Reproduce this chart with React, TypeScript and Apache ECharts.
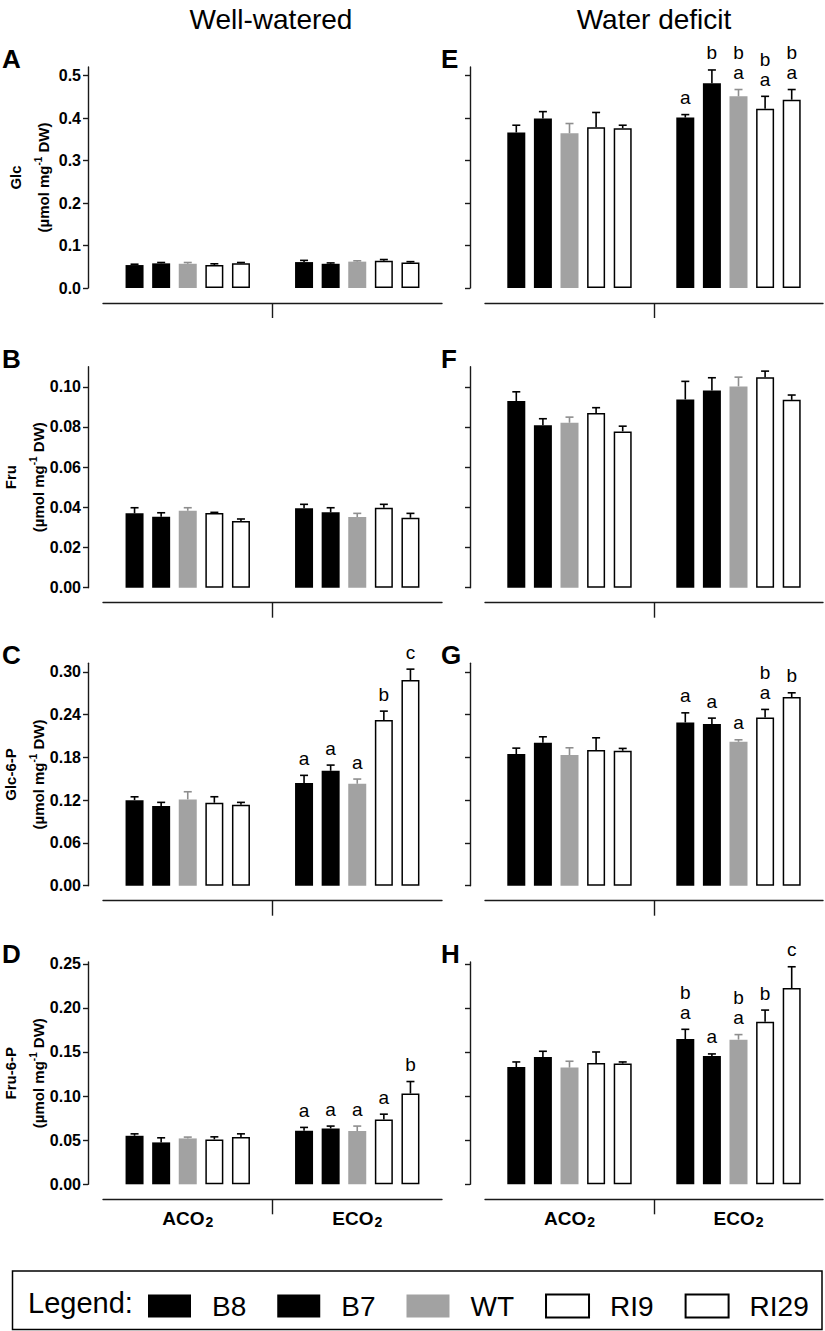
import React, { useEffect, useRef } from 'react';
import * as echarts from 'echarts';

// ---------- data ----------
const GROUPS = ['ACO2', 'ECO2'];
const LINES = ['B8', 'B7', 'WT', 'RI9', 'RI29'];

// means: first 5 = ACO2 (B8,B7,WT,RI9,RI29), last 5 = ECO2
const A_MEAN = [0.054, 0.058, 0.057, 0.054, 0.058, 0.061, 0.057, 0.062, 0.064, 0.060];
const A_ERR = [0.002, 0.002, 0.003, 0.003, 0.002, 0.004, 0.002, 0.002, 0.003, 0.002];
const A_LET = ['', '', '', '', ''];

const B_MEAN = [0.037, 0.0353, 0.0383, 0.0372, 0.0332, 0.0395, 0.0375, 0.0352, 0.0398, 0.0348];
const B_ERR = [0.0028, 0.002, 0.0015, 0.0003, 0.001, 0.002, 0.0023, 0.0018, 0.0017, 0.0022];
const B_LET = ['', '', '', '', ''];

const C_MEAN = [0.120, 0.1117, 0.1211, 0.1164, 0.1136, 0.144, 0.1612, 0.143, 0.2323, 0.2884];
const C_ERR = [0.0047, 0.0052, 0.0107, 0.0084, 0.0033, 0.0108, 0.008, 0.0066, 0.0126, 0.0154];
const C_LET = ['a', 'a', 'a', 'b', 'c'];

const D_MEAN = [0.055, 0.0475, 0.052, 0.0509, 0.0535, 0.0606, 0.0633, 0.0603, 0.0735, 0.1029];
const D_ERR = [0.0022, 0.0052, 0.0015, 0.0029, 0.0037, 0.0039, 0.0027, 0.0057, 0.006, 0.0136];
const D_LET = ['a', 'a', 'a', 'a', 'b'];

const E_MEAN = [0.366, 0.399, 0.364, 0.378, 0.376, 0.401, 0.482, 0.451, 0.422, 0.443];
const E_ERR = [0.017, 0.016, 0.023, 0.035, 0.007, 0.007, 0.031, 0.016, 0.029, 0.024];
const E_LET = ['a', 'b', 'b\na', 'b\na', 'b\na'];

const F_MEAN = [0.0929, 0.0808, 0.0821, 0.0869, 0.0778, 0.0937, 0.0982, 0.1002, 0.1047, 0.0935];
const F_ERR = [0.0046, 0.0033, 0.0028, 0.0027, 0.0026, 0.009, 0.0063, 0.0046, 0.0031, 0.0024];
const F_LET = ['', '', '', '', ''];

const G_MEAN = [0.1846, 0.2005, 0.1832, 0.1902, 0.1893, 0.229, 0.2267, 0.2019, 0.2361, 0.2646];
const G_ERR = [0.0084, 0.0084, 0.0103, 0.0173, 0.0033, 0.0135, 0.0084, 0.0028, 0.0112, 0.006];
const G_LET = ['a', 'a', 'a', 'b\na', 'b'];

const H_MEAN = [0.133, 0.1443, 0.1323, 0.1376, 0.1369, 0.1647, 0.1455, 0.164, 0.1844, 0.2224];
const H_ERR = [0.0057, 0.0065, 0.0072, 0.0124, 0.0018, 0.011, 0.0023, 0.0057, 0.0131, 0.0242];
const H_LET = ['b\na', 'a', 'b\na', 'b', 'c'];

const TICKS_GLC = [0, 0.1, 0.2, 0.3, 0.4, 0.5];
const TICKS_FRU = [0, 0.02, 0.04, 0.06, 0.08, 0.1];
const TICKS_G6P = [0, 0.06, 0.12, 0.18, 0.24, 0.3];
const TICKS_F6P = [0, 0.05, 0.1, 0.15, 0.2, 0.25];

const ROW_NAMES = ['Glc', 'Fru', 'Glc-6-P', 'Fru-6-P'];
const COL_TITLES = ['Well-watered', 'Water deficit'];
const PANEL_LETTERS = ['A', 'B', 'C', 'D', 'E', 'F', 'G', 'H'];

// ---------- styles / layout ----------
const FONT = '"Liberation Sans", Arial, Helvetica, sans-serif';
const BAR_FILL = ['#000000', '#000000', '#a2a2a2', '#ffffff', '#ffffff'];
const ERR_COLOR = ['#000000', '#000000', '#8e8e8e', '#000000', '#000000'];
const BAR_W = 18;
const BAR_GAP_PX = 8.6;
const STEP = BAR_W + BAR_GAP_PX;

const ROW_TOP = [67, 366.7, 663.3, 962];
const ROW_H = [221, 221, 222.4, 222.3];
const COL_LEFT = [103, 485];
const COL_W = [339, 338];

export default function App() {
  const ref = useRef<HTMLDivElement>(null);

  useEffect(() => {
    document.body.style.margin = '0';
    const chart = echarts.init(ref.current!, null, { renderer: 'svg' });

    const panels = [
      { mean: A_MEAN, err: A_ERR, let: A_LET, ticks: TICKS_GLC, max: 0.52, dec: 1 },
      { mean: B_MEAN, err: B_ERR, let: B_LET, ticks: TICKS_FRU, max: 0.11, dec: 2 },
      { mean: C_MEAN, err: C_ERR, let: C_LET, ticks: TICKS_G6P, max: 0.312, dec: 2 },
      { mean: D_MEAN, err: D_ERR, let: D_LET, ticks: TICKS_F6P, max: 0.252, dec: 2 },
      { mean: E_MEAN, err: E_ERR, let: E_LET, ticks: TICKS_GLC, max: 0.52, dec: 1 },
      { mean: F_MEAN, err: F_ERR, let: F_LET, ticks: TICKS_FRU, max: 0.11, dec: 2 },
      { mean: G_MEAN, err: G_ERR, let: G_LET, ticks: TICKS_G6P, max: 0.312, dec: 2 },
      { mean: H_MEAN, err: H_ERR, let: H_LET, ticks: TICKS_F6P, max: 0.252, dec: 2 },
    ];

    const grid: any[] = [];
    const xAxis: any[] = [];
    const yAxis: any[] = [];
    const series: any[] = [];
    const graphic: any[] = [];

    const axisLineStyle = { color: '#1a1a1a', width: 1.4 };

    panels.forEach((p, pi) => {
      const col = pi < 4 ? 0 : 1;
      const row = pi % 4;
      const isBottom = row === 3;
      grid.push({ left: COL_LEFT[col], top: ROW_TOP[row], width: COL_W[col], height: ROW_H[row] });

      xAxis.push({
        type: 'category',
        gridIndex: pi,
        position: 'bottom',
        data: GROUPS,
        offset: 15,
        axisLine: { onZero: false, lineStyle: axisLineStyle },
        axisTick: { alignWithLabel: true, length: 4, lineStyle: axisLineStyle },
        axisLabel: {
          show: isBottom,
          margin: 8,
          formatter: (v: string) => `{m|${v.slice(0, 3)}}{s|${v.slice(3)}}`,
          rich: {
            m: { fontSize: 19, fontWeight: 'bold', color: '#000', fontFamily: FONT, lineHeight: 22 },
            s: { fontSize: 14, fontWeight: 'bold', color: '#000', fontFamily: FONT, lineHeight: 12, verticalAlign: 'bottom', padding: [0, 0, 0, 1] },
          },
        },
      });
      xAxis.push({
        type: 'value',
        gridIndex: pi,
        position: 'bottom',
        min: 0,
        max: 2,
        interval: 1,
        offset: 15,
        axisLine: { show: false, onZero: false },
        axisLabel: { show: false },
        splitLine: { show: false },
        axisTick: { show: true, customValues: [1], length: 15, lineStyle: axisLineStyle },
      });

      yAxis.push({
        type: 'value',
        gridIndex: pi,
        position: 'left',
        min: 0,
        max: p.max,
        offset: 15,
        splitLine: { show: false },
        axisLine: { show: true, onZero: false, lineStyle: axisLineStyle },
        axisTick: { show: true, length: 5, customValues: p.ticks, lineStyle: axisLineStyle },
        axisLabel: {
          show: col === 0,
          customValues: p.ticks,
          margin: 7,
          fontSize: 16,
          fontWeight: 'bold',
          color: '#000',
          fontFamily: FONT,
          formatter: (v: number) => v.toFixed(p.dec),
        },
        name: col === 0 ? `{t|${ROW_NAMES[row]}}\n{m|(µmol mg}{s|-1}{m| DW)}` : '',
        nameLocation: 'middle',
        nameRotate: 90,
        nameGap: 35,
        nameTextStyle: {
          rich: {
            t: { fontSize: 15, fontWeight: 'bold', color: '#000', fontFamily: FONT, lineHeight: 36 },
            m: { fontSize: 15, fontWeight: 'bold', color: '#000', fontFamily: FONT, lineHeight: 20 },
            s: { fontSize: 10, fontWeight: 'bold', color: '#000', fontFamily: FONT, lineHeight: 12, verticalAlign: 'top' },
          },
        },
      });

      LINES.forEach((name, li) => {
        const white = li >= 3;
        series.push({
          type: 'bar',
          name,
          xAxisIndex: pi * 2,
          yAxisIndex: pi,
          barWidth: BAR_W,
          barGap: `${(BAR_GAP_PX / BAR_W) * 100}%`,
          data: [p.mean[li], p.mean[5 + li]],
          itemStyle: {
            color: BAR_FILL[li],
            borderColor: white ? '#000' : BAR_FILL[li],
            borderWidth: white ? 1.5 : 0,
          },
          emphasis: { disabled: true },
        });
      });

      const errData: any[] = [];
      const letters: string[] = [];
      for (let g = 0; g < 2; g++) {
        for (let li = 0; li < 5; li++) {
          errData.push([g, p.mean[g * 5 + li], p.err[g * 5 + li], li]);
          letters.push(g === 1 ? p.let[li] : '');
        }
      }
      series.push({
        type: 'custom',
        name: 'err' + pi,
        xAxisIndex: pi * 2,
        yAxisIndex: pi,
        data: errData,
        encode: { x: 0, y: 1 },
        z: 5,
        renderItem: (params: any, api: any) => {
          const g = api.value(0);
          const v = api.value(1);
          const e = api.value(2);
          const li = api.value(3);
          const base = api.coord([g, v]);
          const top = api.coord([g, v + e]);
          const x = base[0] + (li - 2) * STEP;
          const c = ERR_COLOR[li];
          const children: any[] = [
            { type: 'line', shape: { x1: x, y1: base[1], x2: x, y2: top[1] }, style: { stroke: c, lineWidth: 1.6 } },
            { type: 'line', shape: { x1: x - 4, y1: top[1], x2: x + 4, y2: top[1] }, style: { stroke: c, lineWidth: 1.6 } },
          ];
          const lab = letters[params.dataIndex];
          if (lab) {
            children.push({
              type: 'text',
              x,
              y: top[1] - 7,
              style: {
                text: lab,
                align: 'center',
                verticalAlign: 'bottom',
                fontSize: 19,
                lineHeight: 20,
                fontFamily: FONT,
                fill: '#000',
              },
            });
          }
          return { type: 'group', children };
        },
      });

      graphic.push({
        type: 'text',
        x: col === 0 ? 2 : 441,
        y: ROW_TOP[row] - 8,
        style: { text: PANEL_LETTERS[pi], fontSize: 26, fontWeight: 'bold', fontFamily: FONT, fill: '#000', verticalAlign: 'middle' },
      });
    });

    graphic.push(
      { type: 'text', x: 271, y: 19, style: { text: COL_TITLES[0], fontSize: 28, fontFamily: FONT, fill: '#000', align: 'center', verticalAlign: 'middle' } },
      { type: 'text', x: 654, y: 19, style: { text: COL_TITLES[1], fontSize: 28, fontFamily: FONT, fill: '#000', align: 'center', verticalAlign: 'middle' } },
      { type: 'rect', shape: { x: 12.5, y: 1271, width: 809.5, height: 58.5 }, style: { fill: 'none', stroke: '#000', lineWidth: 1.5 } },
      { type: 'text', x: 28, y: 1303, style: { text: 'Legend:', fontSize: 29, fontFamily: FONT, fill: '#000', verticalAlign: 'middle' } },
    );

    chart.setOption({
      animation: false,
      textStyle: { fontFamily: FONT },
      grid,
      xAxis,
      yAxis,
      series,
      graphic,
      legend: {
        data: LINES,
        left: 148,
        top: 1292,
        padding: 0,
        icon: 'rect',
        itemWidth: 43,
        itemHeight: 23,
        itemGap: 31,
        selectedMode: false,
        textStyle: { fontSize: 28, color: '#000', fontFamily: FONT, padding: [0, 0, 0, 16] },
      },
    });

    return () => chart.dispose();
  }, []);

  return <div ref={ref} style={{ width: 825, height: 1331 }} />;
}
